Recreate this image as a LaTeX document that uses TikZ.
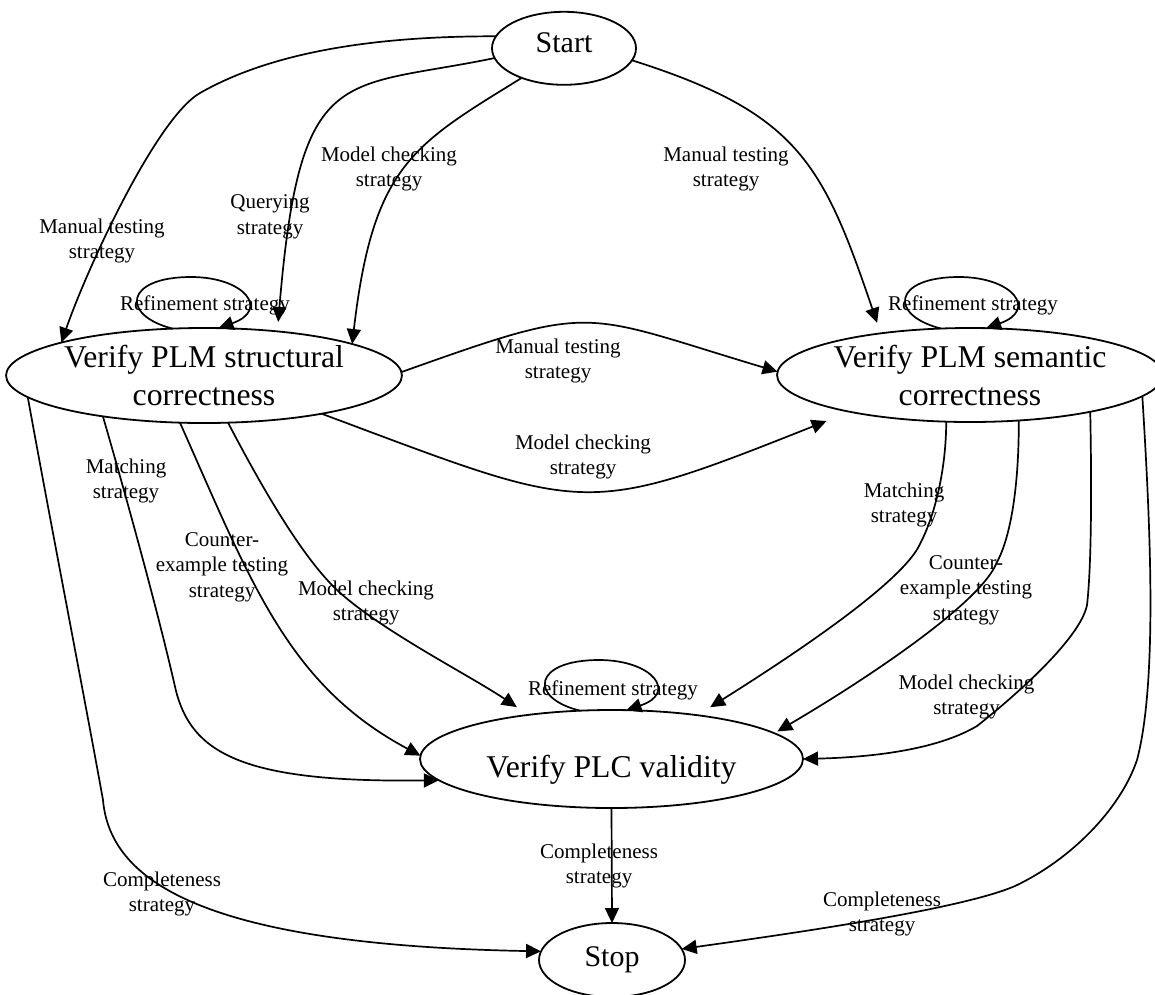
\documentclass[tikz,border=0pt]{standalone}
\usepackage{fontspec}
\setmainfont{Liberation Serif}
\usetikzlibrary{arrows.meta,shapes.geometric}
\begin{document}
\begin{tikzpicture}[x=1pt,y=-1pt,
  stnode/.style={draw, ellipse, line width=1.8pt, inner sep=0pt, outer sep=0pt},
  bigfont/.style={font=\fontsize{31.7}{38}\selectfont, align=center},
  smallfont/.style={font=\fontsize{30}{36}\selectfont},
  conn/.style={line width=1.7pt, -{Triangle[length=15pt,width=14pt]}},
  lbl/.style={font=\fontsize{21}{25.5}\selectfont, align=center, inner sep=0pt}]
\useasboundingbox (0,0) rectangle (1155,994);

% states
\node[stnode, smallfont, minimum width=144pt, minimum height=73pt, text height=14pt, text depth=5.2pt] (start) at (564,48.3) {Start};
\node[stnode, bigfont, minimum width=386pt, minimum height=95pt] (struc) at (204,375.5) {Verify PLM structural\\correctness};
\node[stnode, bigfont, minimum width=382pt, minimum height=94pt] (sem) at (970,375) {Verify PLM semantic\\correctness};
\node[stnode, bigfont, minimum width=383pt, minimum height=98pt, text height=40pt, text depth=2.8pt] (plc) at (611.5,759) {Verify PLC validity};
\node[stnode, smallfont, minimum width=146pt, minimum height=74pt, text height=16pt, text depth=4pt] (stop) at (612,960) {Stop};

% connectors
\draw[conn] (start.170.4) .. controls (371,36) and (270,53) .. (200,93) .. controls (156.5,118) and (87.6,267) .. (struc.167.1);
\draw[conn, shorten >=9.5pt] (start.188.5) .. controls (340,90) and (300,60) .. (struc.31.4);
\draw[conn] (start.215.3) .. controls (413,145) and (373,165) .. (struc.12.4);
\draw[conn, shorten >=11pt] (start.350.8) .. controls (797.5,112.7) and (822.7,162.6) .. (sem.155.7);

\draw[conn] (struc.124) .. controls (120,315) and (125,277) .. (191,277) .. controls (245,277) and (270,310) .. (struc.73.9);
\draw[conn] (sem.122.5) .. controls (888,315) and (893,277) .. (959,277) .. controls (1013,277) and (1038,310) .. (sem.71.6);
\draw[conn] (plc.123.3) .. controls (528,698) and (533,660) .. (599,660) .. controls (653,660) and (678,693) .. (plc.73.5);

\draw[conn] (struc.1.0) .. controls (598,302) and (578,312) .. (sem.179.1);
\draw[conn, shorten >=25pt] (struc.342.5) .. controls (588,513) and (580,519) .. (sem.197);

\draw[conn] (struc.202.9) .. controls (130,510) and (160,620) .. (176,691) .. controls (192,752) and (240,783) .. (plc.187.7);
\draw[conn] (struc.243) .. controls (252,585) and (288.5,685) .. (plc.179.4);
\draw[conn, shorten >=14pt] (struc.297) .. controls (258,480) and (300,555) .. (337,590) .. controls (380,630) and (469,675) .. (plc.152.6);
\draw[conn] (struc.187.9) .. controls (50,520) and (85,700) .. (103,800) .. controls (110,880) and (200,945) .. (stop.173.1);

\draw[conn, shorten >=15pt] (sem.243.8) .. controls (946,470) and (935,515) .. (920,544) .. controls (903.6,580) and (806,647) .. (plc.27.8);
\draw[conn, shorten >=3.5pt] (sem.317.2) .. controls (1019,480) and (1012,535) .. (996.5,563) .. controls (982,600) and (880,671) .. (plc.9);
\draw[conn] (sem.343.3) .. controls (1092,500) and (1091,570) .. (1087,605) .. controls (1080,640) and (1010,700) .. (977,726) .. controls (940,748) and (880,757) .. (plc.0.6);
\draw[conn] (sem.353.2) .. controls (1150,520) and (1158,680) .. (1137,760) .. controls (1120,810) and (1070,860) .. (1015,886) .. controls (960,910) and (780,935) .. (stop.9.3);

\draw[conn] (plc.south) -- (stop.north);

% labels
\node[lbl] (l1) at (102,241) {Manual testing\\strategy};
\node[lbl] (l2) at (270,217) {Querying\\strategy};
\node[lbl] (l3) at (389,169) {Model checking\\strategy};
\node[lbl] (l4) at (726,169) {Manual testing\\strategy};
\node[lbl] (l5) at (205,305) {Refinement strategy};
\node[lbl] (l6) at (973,305) {Refinement strategy};
\node[lbl] (l17) at (613,690) {Refinement strategy};
\node[lbl] (l7) at (558,361) {Manual testing\\strategy};
\node[lbl] (l8) at (583,457) {Model checking\\strategy};
\node[lbl] (l9) at (126,481) {Matching\\strategy};
\node[lbl] (l10) at (222,567) {Counter-\\example testing\\strategy};
\node[lbl] (l11) at (366,603) {Model checking\\strategy};
\node[lbl] (l12) at (162,894) {Completeness\\strategy};
\node[lbl] (l13) at (904,505) {Matching\\strategy};
\node[lbl] (l14) at (966,590) {Counter-\\example testing\\strategy};
\node[lbl] (l15) at (966.5,697) {Model checking\\strategy};
\node[lbl] (l16) at (882,914) {Completeness\\strategy};
\node[lbl] (l18) at (599,866) {Completeness\\strategy};
\end{tikzpicture}
\end{document}
